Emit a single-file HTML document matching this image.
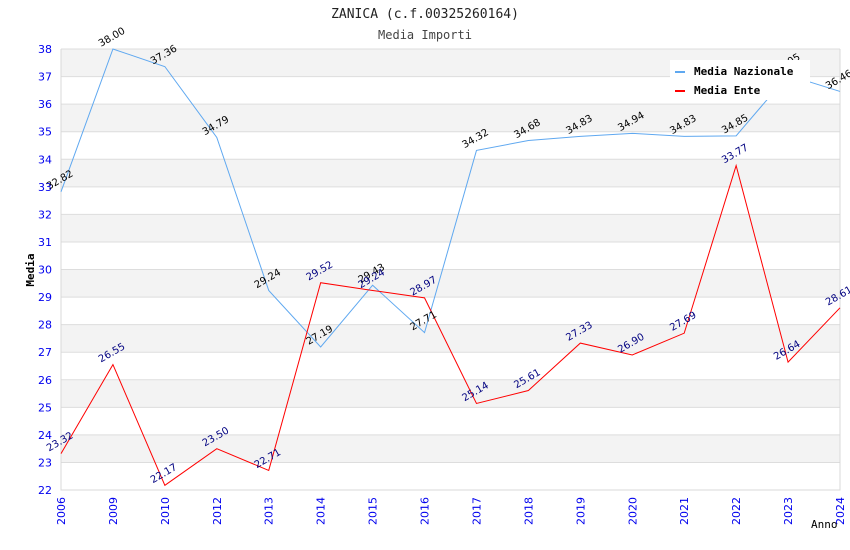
<!DOCTYPE html>
<html><head><meta charset="utf-8"><style>
body{margin:0;background:#fff;}
svg{display:block;font-family:"DejaVu Sans","Liberation Sans",sans-serif;}
</style></head><body>
<svg id="chart" width="850" height="550">
<text x="425" y="18" text-anchor="middle" font-family="DejaVu Sans Mono,Liberation Mono,monospace" font-size="13" fill="#222">ZANICA (c.f.00325260164)</text>
<text x="425" y="39" text-anchor="middle" font-family="DejaVu Sans Mono,Liberation Mono,monospace" font-size="12" fill="#444">Media Importi</text>
<g id="bands"></g><g id="grid"></g><g id="axes"></g><g id="series"></g><g id="labels"></g>
<text transform="translate(34,270) rotate(-90)" text-anchor="middle" font-family="DejaVu Sans Mono,Liberation Mono,monospace" font-size="11" font-weight="bold" fill="#000">Media</text>
<text x="811" y="528" font-family="DejaVu Sans Mono,Liberation Mono,monospace" font-size="11" fill="#000">Anno</text>
<g>
<rect x="670" y="60" width="140" height="40" fill="#fff"/>
<rect x="675" y="71" width="10" height="2" fill="#5fa8f0"/>
<text x="694" y="75" font-family="DejaVu Sans Mono,Liberation Mono,monospace" font-size="11" font-weight="bold" fill="#000">Media Nazionale</text>
<rect x="675" y="90" width="10" height="2" fill="#ff0000"/>
<text x="694" y="94" font-family="DejaVu Sans Mono,Liberation Mono,monospace" font-size="11" font-weight="bold" fill="#000">Media Ente</text>
</g>
</svg>
<script>
const categories=["2006","2009","2010","2012","2013","2014","2015","2016","2017","2018","2019","2020","2021","2022","2023","2024"];
const nazionale=[32.82,38.00,37.36,34.79,29.24,27.19,29.43,27.71,34.32,34.68,34.83,34.94,34.83,34.85,37.05,36.46];
const ente=[23.32,26.55,22.17,23.50,22.71,29.52,29.24,28.97,25.14,25.61,27.33,26.90,27.69,33.77,26.64,28.61];
const yTicks=[22,23,24,25,26,27,28,29,30,31,32,33,34,35,36,37,38];
const L=61,R=840,T=49,B=490,yMin=22,yMax=38;
const NS="http://www.w3.org/2000/svg";
const x=i=>L+i*(R-L)/(categories.length-1);
const y=v=>B-(v-yMin)*(B-T)/(yMax-yMin);
function mk(tag,attrs,parent,txt){const e=document.createElementNS(NS,tag);for(const k in attrs)e.setAttribute(k,attrs[k]);if(txt!==undefined)e.textContent=txt;document.getElementById(parent).appendChild(e);return e;}
for(let k=0;k<yTicks.length-1;k++){
  const v=yTicks[k];
  if(v%2===1){const r=mk('rect',{x:L,y:y(v+1),width:R-L,height:y(v)-y(v+1),fill:'#f3f3f3'},'bands');
  
  }
}
yTicks.forEach(v=>{
  const g=mk('line',{x1:L,x2:R,y1:y(v),y2:y(v),stroke:'#dddddd','stroke-width':1},'grid');
  
  
  const t=mk('text',{x:52,y:y(v)+4,'text-anchor':'end','font-size':11,fill:'#0000ee'},'axes',String(v));
  
  
});
const ax=mk('path',{d:`M${L},${T}V${B}H${R}V${T}`,fill:'none',stroke:'#d8d8d8','stroke-width':1},'axes');


categories.forEach((c,i)=>{
  const t=mk('text',{transform:`translate(${x(i)+4},${B+7}) rotate(-90)`,'text-anchor':'end','font-size':11,fill:'#0000ee'},'axes',c);
  
  
});
function drawSeries(vals,color,labColor,name){
  const p=mk('polyline',{points:vals.map((v,i)=>x(i)+','+y(v)).join(' '),fill:'none',stroke:color,'stroke-width':1},'series');
  
  
  vals.forEach((v,i)=>{
    const t=mk('text',{transform:`translate(${x(i)-12},${y(v)-2}) rotate(-30)`,'font-size':10,fill:labColor},'labels',v.toFixed(2));
    
    
  });
}
drawSeries(nazionale,'#5fa8f0','#000','nazionale');
drawSeries(ente,'#ff0000','#000080','ente');
</script>
</body></html>
